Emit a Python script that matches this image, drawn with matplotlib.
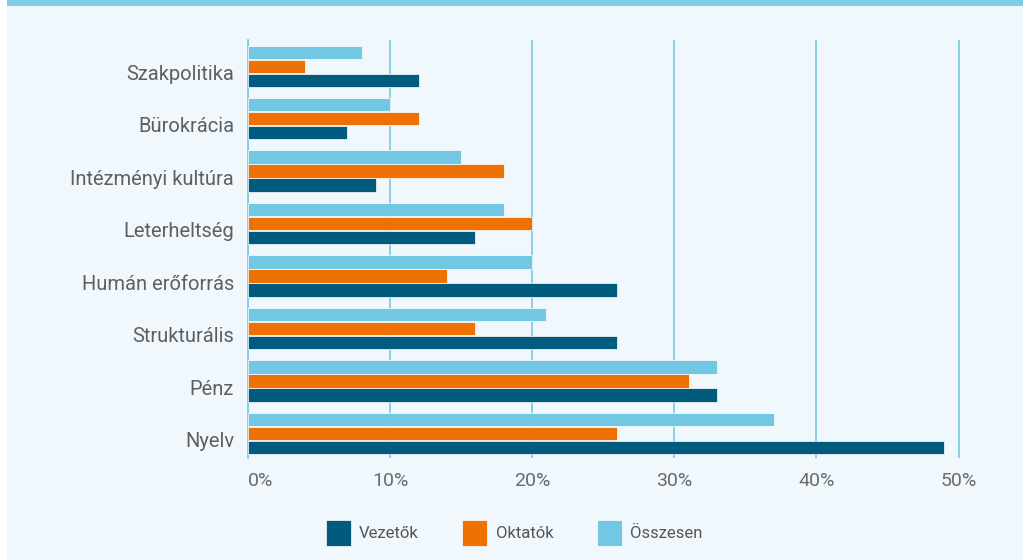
import numpy as np
import matplotlib.pyplot as plt
from matplotlib.patches import Rectangle
from matplotlib.ticker import FuncFormatter

categories = ["Nyelv", "Pénz", "Strukturális", "Humán erőforrás",
              "Leterheltség", "Intézményi kultúra", "Bürokrácia", "Szakpolitika"]
vezetok = [49, 33, 26, 26, 16, 9, 7, 12]
oktatok = [26, 31, 16, 14, 20, 18, 12, 4]
osszesen = [37, 33, 21, 20, 18, 15, 10, 8]
series_names = ["Vezetők", "Oktatók", "Összesen"]

dark = "#005b7f"
orange = "#ee7203"
light = "#72c8e3"
grid_col = "#80cde6"
bg = "#f0f8fe"
txt = "#6b6b6b"

plt.rcParams['font.family'] = ['Roboto', 'DejaVu Sans']

W, H = 1026, 560
fig = plt.figure(figsize=(W / 100, H / 100), dpi=100)
fig.patch.set_facecolor("white")
fig.patches.append(Rectangle((7 / W, 0), 1016 / W, 1, transform=fig.transFigure,
                             facecolor=bg, edgecolor="none", zorder=-10))
fig.patches.append(Rectangle((7 / W, 1 - 6 / H), 1016 / W, 6 / H, transform=fig.transFigure,
                             facecolor=grid_col, edgecolor="none", zorder=-9))

px_per_unit = (958.5 - 248) / 50
xmax = 50.4
ax_left, ax_right = 248, 248 + xmax * px_per_unit
ax_top, ax_bot = 40, 458
ax = fig.add_axes([ax_left / W, 1 - ax_bot / H, (ax_right - ax_left) / W, (ax_bot - ax_top) / H])
ax.set_facecolor("none")

y = np.arange(len(categories))
step = 0.267
h = 0.255
bar_kw = dict(height=h, edgecolor="white", linewidth=0.5, zorder=3)
ax.barh(y - step, vezetok, color=dark, label=series_names[0], **bar_kw)
ax.barh(y, oktatok, color=orange, label=series_names[1], **bar_kw)
ax.barh(y + step, osszesen, color=light, label=series_names[2], **bar_kw)

ax.set_xlim(0, xmax)
ax.set_ylim(-0.47, 7.5)
ax.set_xticks(range(0, 51, 10))
ax.xaxis.set_major_formatter(FuncFormatter(lambda v, p: f"{int(v)}%"))
ax.set_yticks(y - 0.12)
ax.set_yticklabels(categories)
ax.tick_params(axis="both", length=0, colors=txt)
ax.tick_params(axis="y", labelsize=14.5, pad=10, labelcolor="#5f5f5f")
ax.tick_params(axis="x", labelsize=14, pad=10)
for lab in ax.get_xticklabels()[:1]:
    lab.set_horizontalalignment("left")

ax.grid(axis="x", color=grid_col, linewidth=1.3, zorder=0)
for s in ["top", "right", "bottom"]:
    ax.spines[s].set_visible(False)
ax.spines["left"].set_color(grid_col)
ax.spines["left"].set_linewidth(1.3)

handles, labels = ax.get_legend_handles_labels()
fig.legend(handles, labels, loc="center", bbox_to_anchor=(514 / W, 1 - 533 / H), ncol=3,
           frameon=False, fontsize=12, handlelength=1.5, handleheight=2.0,
           handletextpad=0.5, columnspacing=2.6, labelcolor="#555555")

fig.savefig("out.png", dpi=100)
